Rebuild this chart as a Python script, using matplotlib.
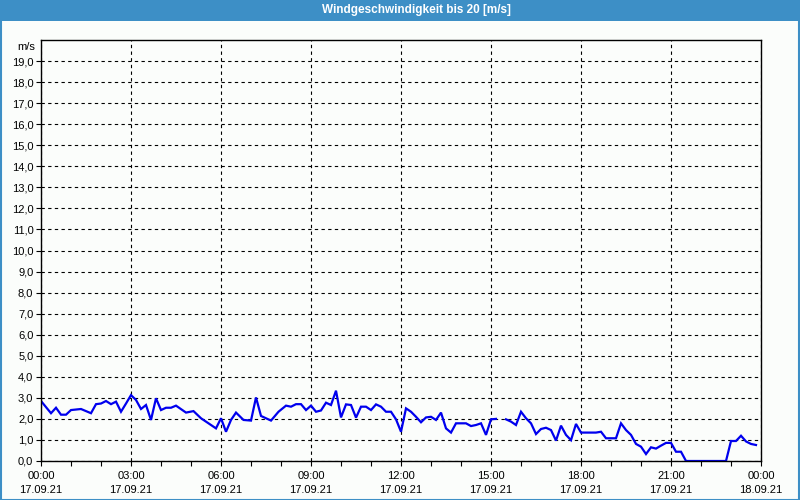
import numpy as np
import matplotlib.pyplot as plt
from matplotlib.patches import Rectangle

# minutes after 00:00 17.09.21, wind speed in m/s
minutes = [0, 20, 30, 40, 50, 60, 80, 100, 110, 120, 130, 140, 150, 160, 170,
           180, 190, 200, 210, 220, 230, 240, 250, 260, 270, 290, 305, 320, 350,
           360, 370, 380, 390, 405, 420, 430, 440, 460, 475, 490, 500, 510, 520,
           530, 540, 550, 560, 570, 580, 590, 600, 610, 620, 630, 640, 650, 660,
           670, 680, 690, 700, 710, 720, 730, 740, 750, 760, 770, 780, 790, 800,
           810, 820, 830, 850, 860, 870, 880, 890, 900, 910, 920, 930, 940, 950,
           960, 970, 980, 990, 1000, 1010, 1020, 1030, 1040, 1050, 1060, 1070,
           1080, 1110, 1120, 1130, 1150, 1160, 1170, 1180, 1190, 1200, 1210,
           1220, 1230, 1240, 1250, 1260, 1270, 1280, 1290, 1370, 1380, 1390,
           1400, 1410, 1420, 1430]
speed = [2.85, 2.27, 2.53, 2.2, 2.2, 2.42, 2.47, 2.27, 2.7, 2.73, 2.85, 2.7,
         2.82, 2.34, 2.73, 3.13, 2.9, 2.47, 2.66, 1.95, 2.98, 2.42, 2.53, 2.53,
         2.63, 2.3, 2.37, 2.03, 1.55, 2.03, 1.39, 1.95, 2.3, 1.95, 1.92, 3.02,
         2.14, 1.92, 2.34, 2.63, 2.58, 2.7, 2.7, 2.42, 2.63, 2.34, 2.4, 2.77,
         2.66, 3.34, 2.07, 2.69, 2.66, 2.06, 2.58, 2.58, 2.42, 2.69, 2.58, 2.34,
         2.34, 1.98, 1.39, 2.5, 2.34, 2.1, 1.84, 2.07, 2.1, 1.95, 2.3, 1.55,
         1.35, 1.79, 1.79, 1.66, 1.71, 1.79, 1.24, 1.98, 2.0, np.nan, 1.98,
         1.87, 1.71, 2.34, 2.03, 1.79, 1.28, 1.52, 1.58, 1.47, 0.97, 1.68,
         1.24, 0.99, 1.76, 1.35, 1.35, 1.39, 1.08, 1.08, 1.79, 1.47, 1.24, 0.81,
         0.68, 0.33, 0.65, 0.59, 0.73, 0.86, 0.86, 0.44, 0.44, 0.0, 0.0, 0.95,
         0.95, 1.2, 0.93, 0.81, 0.76]

tick_hours = [0, 3, 6, 9, 12, 15, 18, 21, 24]
tick_labels = ['00:00\n17.09.21', '03:00\n17.09.21', '06:00\n17.09.21',
               '09:00\n17.09.21', '12:00\n17.09.21', '15:00\n17.09.21',
               '18:00\n17.09.21', '21:00\n17.09.21', '00:00\n18.09.21']
y_ticks = list(range(20))

title = 'Windgeschwindigkeit bis 20 [m/s]'
bar_color = '#3d8fc6'
bg = '#fbfdfb'

plt.rcParams['font.family'] = ['Liberation Sans', 'DejaVu Sans']

fig = plt.figure(figsize=(8, 5), dpi=100, facecolor=bg)

# title bar and frame
fig.patches.append(Rectangle((0, 1 - 20.5 / 500), 1, 20.5 / 500, transform=fig.transFigure,
                             facecolor=bar_color, edgecolor='none', zorder=0))
fig.patches.append(Rectangle((0.001, 0.001), 0.998, 0.998, transform=fig.transFigure,
                             facecolor='none', edgecolor=bar_color, linewidth=1.5, zorder=1))
fig.text(416 / 800, 1 - 10.5 / 500, title, color='white', ha='center', va='center',
         fontsize=8.5, fontweight='bold',
         family=['Liberation Sans Narrow', 'Liberation Sans', 'DejaVu Sans'])

ax = fig.add_axes([41 / 800, 1 - 461 / 500, 720 / 800, 421 / 500])
ax.set_facecolor(bg)

hours = np.array(minutes) / 60.0
ax.plot(hours, speed, color='#0000ee', linewidth=1.6, solid_joinstyle='miter')

ax.set_xlim(0, 24)
ax.set_ylim(0, 20)
ax.set_xticks(tick_hours)
ax.set_xticklabels(tick_labels, fontsize=8, linespacing=1.45)
ax.set_xticks(range(25), minor=True)
ax.set_yticks(y_ticks)
ax.set_yticklabels([f'{v},0' for v in y_ticks], fontsize=8)
ax.tick_params(axis='both', which='both', direction='out', length=3.5, width=0.8,
               color='black', pad=2)
ax.tick_params(axis='x', which='major', pad=4)
ax.grid(True, which='major', color='black', linestyle=(0, (3, 3)), linewidth=0.8)
ax.set_axisbelow(True)
for s in ax.spines.values():
    s.set_linewidth(1.0)
    s.set_color('black')

ax.text(-0.0085, 19.68, 'm/s', transform=ax.get_yaxis_transform(), ha='right',
        va='center', fontsize=8)

fig.savefig('out.png', dpi=100, facecolor=bg)
